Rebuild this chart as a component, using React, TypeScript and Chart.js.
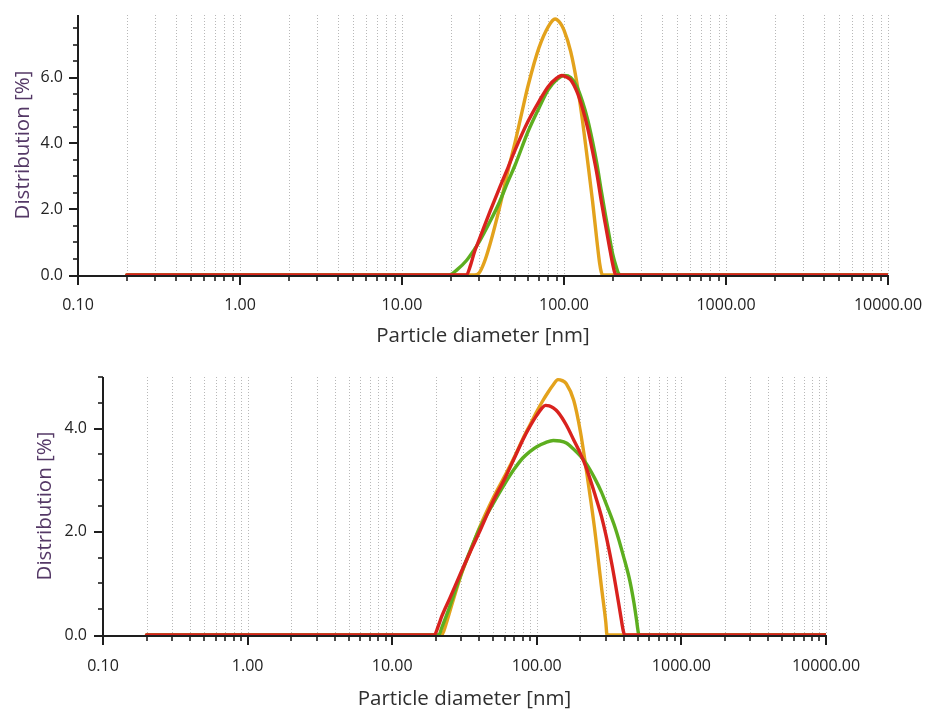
import React, { useEffect, useRef } from "react";
import { Chart, registerables } from "chart.js";

Chart.register(...registerables);

// ---------- data ----------
const X_LABEL_VALUES = [0.1, 1, 10, 100, 1000, 10000];

// top chart
const TOP_ORANGE_D = [0.2, 28, 30, 32, 35, 40, 45, 50, 55, 60, 70, 80, 88, 95, 100, 110, 120, 130, 140, 150, 160, 166, 170, 173, 10000];
const TOP_ORANGE_V = [0, 0, 0.07, 0.35, 0.95, 2.05, 3.15, 4.05, 4.95, 5.75, 6.9, 7.55, 7.78, 7.65, 7.44, 6.79, 5.85, 4.7, 3.45, 2.25, 1.0, 0.35, 0.08, 0, 0];
const TOP_GREEN_D = [0.2, 19.5, 22, 25, 28, 30, 35, 40, 45, 50, 60, 70, 80, 90, 100, 110, 120, 130, 140, 150, 160, 170, 180, 190, 200, 210, 216, 225, 10000];
const TOP_GREEN_V = [0, 0, 0.17, 0.44, 0.78, 1.01, 1.63, 2.22, 2.83, 3.35, 4.36, 5.07, 5.63, 5.93, 6.06, 6.0, 5.73, 5.27, 4.72, 4.06, 3.35, 2.55, 1.84, 1.2, 0.63, 0.25, 0.07, 0, 0];
const TOP_RED_D = [0.2, 25, 26.5, 28, 30, 35, 40, 45, 50, 60, 70, 80, 90, 97, 105, 110, 120, 130, 140, 150, 160, 170, 180, 190, 200, 206, 210, 10000];
const TOP_RED_V = [0, 0, 0.3, 0.7, 1.08, 1.94, 2.65, 3.25, 3.81, 4.67, 5.27, 5.73, 5.98, 6.06, 6.0, 5.93, 5.58, 5.07, 4.46, 3.76, 3.05, 2.24, 1.54, 0.9, 0.32, 0.06, 0, 0];
const TOP_Y_LABELS = [0, 2, 4, 6];
const TOP_Y_MAX = 7.9;

// bottom chart
const BOT_ORANGE_D = [0.2, 22, 23.5, 25, 30, 35, 40, 50, 60, 70, 80, 90, 100, 110, 120, 130, 140, 150, 160, 180, 200, 220, 250, 280, 300, 306, 10000];
const BOT_ORANGE_V = [0, 0, 0.2, 0.45, 1.17, 1.65, 2.07, 2.66, 3.08, 3.45, 3.8, 4.08, 4.33, 4.54, 4.71, 4.85, 4.95, 4.93, 4.87, 4.55, 3.95, 3.2, 2.1, 0.93, 0.25, 0, 0];
const BOT_GREEN_D = [0.2, 21, 22, 25, 30, 35, 40, 50, 60, 70, 80, 90, 100, 115, 130, 145, 160, 180, 200, 220, 250, 280, 300, 350, 400, 440, 470, 490, 500, 506, 515, 10000];
const BOT_GREEN_V = [0, 0, 0.14, 0.55, 1.19, 1.67, 2.05, 2.55, 2.93, 3.22, 3.43, 3.56, 3.65, 3.73, 3.77, 3.76, 3.72, 3.6, 3.47, 3.32, 3.05, 2.77, 2.56, 2.06, 1.5, 1.05, 0.62, 0.28, 0.1, 0.02, 0, 0];
const BOT_RED_D = [0.2, 19.5, 21, 22, 25, 30, 35, 40, 50, 60, 70, 80, 90, 100, 108, 115, 122, 130, 140, 160, 180, 200, 220, 250, 280, 300, 330, 350, 380, 395, 405, 10000];
const BOT_RED_V = [0, 0, 0.2, 0.36, 0.71, 1.22, 1.64, 1.99, 2.6, 3.03, 3.43, 3.78, 4.05, 4.26, 4.39, 4.45, 4.44, 4.4, 4.32, 4.07, 3.78, 3.52, 3.24, 2.76, 2.3, 1.95, 1.38, 0.98, 0.38, 0.1, 0, 0];
const BOT_Y_LABELS = [0, 2, 4];
const BOT_Y_MAX = 5.0;

const X_TITLE = "Particle diameter [nm]";
const Y_TITLE = "Distribution [%]";

// ---------- styles ----------
const COLOR_ORANGE = "#E3A21C";
const COLOR_GREEN = "#5DAE1F";
const COLOR_RED = "#D9221E";
const AXIS_COLOR = "#1e1e1e";
const GRID_COLOR = "#b8b8b8";
const TICK_COLOR = "#222222";
const TICK_FONT = { family: "'Open Sans', sans-serif", size: 16 };
const TITLE_FONT = { family: "'Open Sans', sans-serif", size: 20.5, lineHeight: 1.0 };

function gridValues(min: number, max: number) {
  const out: number[] = [];
  for (let e = Math.floor(Math.log10(min)); e <= Math.ceil(Math.log10(max)); e++) {
    for (let m = 1; m <= 9; m++) {
      const v = m * Math.pow(10, e);
      if (v >= min * 0.999 && v <= max * 1.001) out.push(v);
    }
  }
  return out;
}

const axesPlugin = {
  id: "axesDeco",
  beforeDatasetsDraw(chart: any) {
    const { ctx, chartArea, scales } = chart;
    const xs = scales.x;
    const axisY = chartArea.bottom + 1;
    ctx.save();
    ctx.strokeStyle = GRID_COLOR;
    ctx.lineWidth = 1;
    ctx.setLineDash([1, 2]);
    for (const v of gridValues(xs.min, xs.max)) {
      if (v <= xs.min * 1.001) continue;
      const px = Math.round(xs.getPixelForValue(v)) + 0.5;
      ctx.beginPath();
      ctx.moveTo(px, chartArea.top);
      ctx.lineTo(px, axisY);
      ctx.stroke();
    }
    ctx.restore();
  },
  afterDraw(chart: any) {
    const { ctx, chartArea, scales } = chart;
    const xs = scales.x;
    const ys = scales.y;
    const axisY = chartArea.bottom + 1;
    const axisX = chartArea.left;
    ctx.save();
    ctx.strokeStyle = AXIS_COLOR;
    ctx.lineWidth = 2;
    ctx.setLineDash([]);
    ctx.beginPath();
    ctx.moveTo(axisX, chartArea.top);
    ctx.lineTo(axisX, axisY);
    ctx.moveTo(axisX, axisY);
    ctx.lineTo(chartArea.right + 1, axisY);
    ctx.stroke();
    for (const v of gridValues(xs.min, xs.max)) {
      const px = Math.round(xs.getPixelForValue(v));
      const major = Math.abs(Math.log10(v) - Math.round(Math.log10(v))) < 1e-6;
      ctx.lineWidth = major ? 2 : 1.6;
      ctx.beginPath();
      ctx.moveTo(px, axisY);
      ctx.lineTo(px, axisY + (major ? 9 : 5));
      ctx.stroke();
    }
    for (let i = 0; i * 0.5 <= ys.max + 1e-6; i++) {
      const v = i * 0.5;
      const py = v === 0 ? axisY : Math.round(ys.getPixelForValue(v));
      const major = i % 4 === 0;
      ctx.lineWidth = major ? 2 : 1.6;
      ctx.beginPath();
      ctx.moveTo(axisX - (major ? 9 : 5), py);
      ctx.lineTo(axisX, py);
      ctx.stroke();
    }
    ctx.restore();
  },
};

type Layout = {
  width: number;
  height: number;
  padTop: number;
  padRight: number;
  yWidth: number;
  xHeight: number;
  xTickPad: number;
  yTickPad: number;
  yTitlePad: number;
  xTitlePad: number;
};

function series(diam: number[], vals: number[]) {
  return diam.map((d, i) => ({ x: d, y: vals[i] }));
}

type Series = { d: number[]; v: number[] };

function buildConfig(orange: Series, green: Series, red: Series, yMax: number, yLabels: number[], L: Layout): any {
  const ds = (label: string, s: Series, color: string) => ({
    label,
    data: series(s.d, s.v),
    borderColor: color,
    backgroundColor: color,
    borderWidth: 3.4,
    pointRadius: 0,
    fill: false,
    cubicInterpolationMode: "monotone",
    borderJoinStyle: "round",
    borderCapStyle: "round",
  });
  return {
    type: "line",
    data: {
      datasets: [ds("red", red, COLOR_RED), ds("green", green, COLOR_GREEN), ds("orange", orange, COLOR_ORANGE)],
    },
    plugins: [axesPlugin],
    options: {
      responsive: false,
      animation: false,
      devicePixelRatio: 1,
      events: [],
      layout: { padding: { top: L.padTop, right: L.padRight, left: 0, bottom: 0 } },
      plugins: { legend: { display: false }, tooltip: { enabled: false }, title: { display: false } },
      scales: {
        x: {
          type: "logarithmic",
          min: 0.1,
          max: 10000,
          grid: { display: false, drawTicks: false },
          border: { display: false },
          afterBuildTicks: (s: any) => {
            s.ticks = X_LABEL_VALUES.map((v) => ({ value: v }));
          },
          afterFit: (s: any) => {
            s.height = L.xHeight;
            s.paddingLeft = 0;
            s.paddingRight = 0;
            s.paddingTop = 0;
            s.paddingBottom = 0;
          },
          ticks: {
            autoSkip: false,
            maxRotation: 0,
            minRotation: 0,
            padding: L.xTickPad,
            color: TICK_COLOR,
            font: TICK_FONT,
            callback: (v: any) => Number(v).toFixed(2),
          },
          title: {
            display: true,
            text: X_TITLE,
            color: "#2f2f2f",
            font: TITLE_FONT,
            padding: { top: 0, bottom: L.xTitlePad },
          },
        },
        y: {
          type: "linear",
          min: 0,
          max: yMax,
          grid: { display: false, drawTicks: false },
          border: { display: false },
          afterBuildTicks: (s: any) => {
            s.ticks = yLabels.map((v) => ({ value: v }));
          },
          afterFit: (s: any) => {
            s.width = L.yWidth;
            s.paddingLeft = 0;
            s.paddingRight = 0;
            s.paddingTop = 0;
            s.paddingBottom = 0;
          },
          ticks: {
            padding: L.yTickPad,
            color: TICK_COLOR,
            font: TICK_FONT,
            callback: (v: any) => Number(v).toFixed(1),
          },
          title: {
            display: true,
            text: Y_TITLE,
            color: "#543866",
            font: TITLE_FONT,
            padding: { top: L.yTitlePad, bottom: 0 },
          },
        },
      },
    },
  };
}

const TOP_LAYOUT: Layout = {
  width: 926,
  height: 352,
  padTop: 15,
  padRight: 38,
  yWidth: 78,
  xHeight: 77,
  xTickPad: 21,
  yTickPad: 15,
  yTitlePad: 12.5,
  xTitlePad: 5.5,
};

const BOT_LAYOUT: Layout = {
  width: 926,
  height: 357,
  padTop: 25,
  padRight: 100,
  yWidth: 103,
  xHeight: 74,
  xTickPad: 22,
  yTickPad: 16,
  yTitlePad: 34.5,
  xTitlePad: 0,
};

function ChartBox({ config, layout, top }: { config: any; layout: Layout; top: number }) {
  const ref = useRef<HTMLCanvasElement>(null);
  useEffect(() => {
    const chart = new Chart(ref.current as HTMLCanvasElement, config);
    return () => chart.destroy();
  }, [config]);
  return (
    <canvas
      ref={ref}
      width={layout.width}
      height={layout.height}
      style={{ position: "absolute", left: 0, top, width: layout.width, height: layout.height, display: "block" }}
    />
  );
}

const TOP_CONFIG = buildConfig(
  { d: TOP_ORANGE_D, v: TOP_ORANGE_V },
  { d: TOP_GREEN_D, v: TOP_GREEN_V },
  { d: TOP_RED_D, v: TOP_RED_V },
  TOP_Y_MAX,
  TOP_Y_LABELS,
  TOP_LAYOUT
);
const BOT_CONFIG = buildConfig(
  { d: BOT_ORANGE_D, v: BOT_ORANGE_V },
  { d: BOT_GREEN_D, v: BOT_GREEN_V },
  { d: BOT_RED_D, v: BOT_RED_V },
  BOT_Y_MAX,
  BOT_Y_LABELS,
  BOT_LAYOUT
);

export default function App() {
  return (
    <div style={{ position: "absolute", left: 0, top: 0, width: 926, height: 709, background: "#ffffff" }}>
      <ChartBox config={TOP_CONFIG} layout={TOP_LAYOUT} top={0} />
      <ChartBox config={BOT_CONFIG} layout={BOT_LAYOUT} top={352} />
    </div>
  );
}
